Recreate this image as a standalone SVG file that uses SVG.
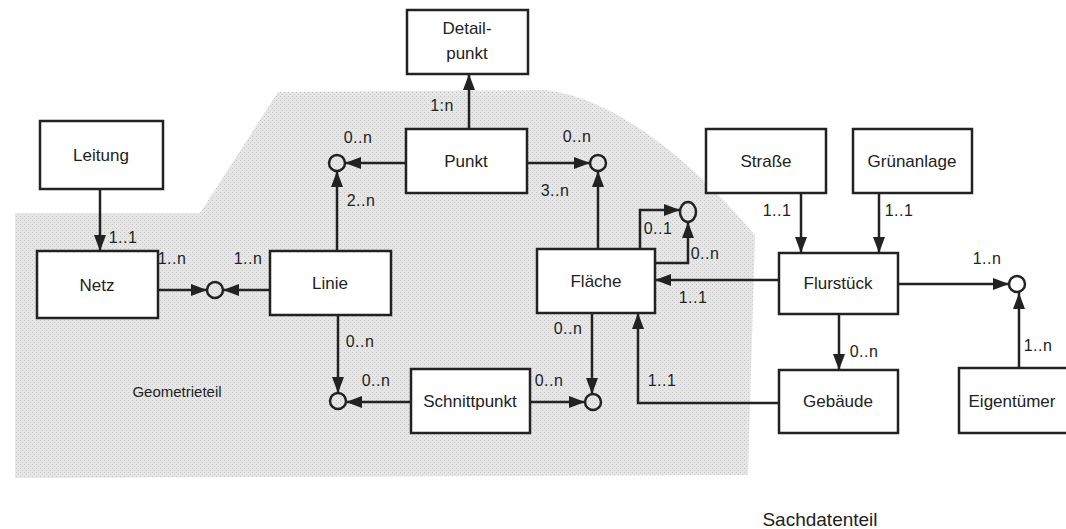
<svg xmlns="http://www.w3.org/2000/svg" width="1066" height="529" viewBox="0 0 1066 529">
<defs>
<pattern id="tex" width="4" height="4" patternUnits="userSpaceOnUse">
<rect width="4" height="4" fill="#e6e6e6"/>
<rect x="0" y="0" width="1" height="1" fill="#c4c4c4"/>
<rect x="2" y="2" width="1" height="1" fill="#cecece"/>
</pattern>
<marker id="arr" viewBox="0 0 16 12" refX="16" refY="6" markerWidth="16" markerHeight="12" markerUnits="userSpaceOnUse" orient="auto">
<path d="M0,0 L16,6 L0,12 z" fill="#222"/>
</marker>
</defs>
<style>
.box{fill:#fff;stroke:#222;stroke-width:2.5}
.lbl{font-family:"Liberation Sans",Arial,sans-serif;font-size:17px;fill:#222;text-anchor:middle}
.m{font-family:"Liberation Sans",Arial,sans-serif;font-size:16px;fill:#222;text-anchor:middle;letter-spacing:0.5px}
.c{fill:none;stroke:#222;stroke-width:2.5}
.ln{fill:none;stroke:#222;stroke-width:2.5;marker-end:url(#arr)}
</style>
<rect width="1066" height="529" fill="#fff"/>
<path id="geometrieteil-area" d="M15,213 L200,213 L278,92 L545,90 C620,98 700,170 755,235 L748,475 L15,478 Z" fill="url(#tex)"/>
<g id="connectors">
<path class="ln" d="M100,189 V251"/>
<path class="ln" d="M158,290 H207"/>
<path class="ln" d="M270,290 H223"/>
<path class="ln" d="M337,251 V171"/>
<path class="ln" d="M406,163 H345"/>
<path class="ln" d="M469,129 V74"/>
<path class="ln" d="M527,163 H590"/>
<path class="ln" d="M598,249 V171"/>
<path class="ln" d="M640,249 V210 H680"/>
<path class="ln" d="M655,263 H688 V222"/>
<path class="ln" d="M779,280 H655"/>
<path class="ln" d="M801,193 V253"/>
<path class="ln" d="M879,193 V253"/>
<path class="ln" d="M898,284 H1009"/>
<path class="ln" d="M1019,368 V293"/>
<path class="ln" d="M839,314 V370"/>
<path class="ln" d="M779,403 H638 V313"/>
<path class="ln" d="M338,315 V393"/>
<path class="ln" d="M411,402 H346"/>
<path class="ln" d="M530,402 H585"/>
<path class="ln" d="M592,313 V394"/>
<circle class="c" cx="215" cy="290" r="8"/>
<circle class="c" cx="337" cy="163" r="8"/>
<circle class="c" cx="598" cy="163" r="8"/>
<ellipse class="c" cx="688" cy="212" rx="8" ry="10"/>
<circle class="c" cx="1017" cy="284" r="8"/>
<circle class="c" cx="338" cy="401" r="8"/>
<circle class="c" cx="593" cy="402" r="8"/>
<text class="m" x="123" y="243">1..1</text>
<text class="m" x="172" y="264">1..n</text>
<text class="m" x="248" y="264">1..n</text>
<text class="m" x="358" y="143">0..n</text>
<text class="m" x="361" y="206">2..n</text>
<text class="m" x="442" y="111">1:n</text>
<text class="m" x="577" y="142">0..n</text>
<text class="m" x="555" y="196">3..n</text>
<text class="m" x="658" y="234">0..1</text>
<text class="m" x="705" y="259">0..n</text>
<text class="m" x="693" y="303">1..1</text>
<text class="m" x="777" y="216">1..1</text>
<text class="m" x="899" y="216">1..1</text>
<text class="m" x="987" y="264">1..n</text>
<text class="m" x="1038" y="351">1..n</text>
<text class="m" x="864" y="357">0..n</text>
<text class="m" x="662" y="386">1..1</text>
<text class="m" x="360" y="347">0..n</text>
<text class="m" x="376" y="386">0..n</text>
<text class="m" x="549" y="386">0..n</text>
<text class="m" x="568" y="334">0..n</text>
</g>
<g id="detailpunkt"><rect class="box" x="407" y="10" width="121" height="64"/><text class="lbl" x="467" y="34">Detail-</text><text class="lbl" x="467" y="59">punkt</text></g>
<g id="punkt"><rect class="box" x="406" y="129" width="121" height="64"/><text class="lbl" x="466" y="167">Punkt</text></g>
<g id="leitung"><rect class="box" x="40" y="121" width="123" height="68"/><text class="lbl" x="101" y="161">Leitung</text></g>
<g id="netz"><rect class="box" x="37" y="251" width="121" height="67"/><text class="lbl" x="97" y="291">Netz</text></g>
<g id="linie"><rect class="box" x="270" y="251" width="121" height="64"/><text class="lbl" x="330" y="289">Linie</text></g>
<g id="flaeche"><rect class="box" x="537" y="249" width="118" height="64"/><text class="lbl" x="596" y="287">Fläche</text></g>
<g id="strasse"><rect class="box" x="706" y="129" width="120" height="64"/><text class="lbl" x="766" y="167">Straße</text></g>
<g id="gruenanlage"><rect class="box" x="853" y="129" width="119" height="64"/><text class="lbl" x="912" y="167">Grünanlage</text></g>
<g id="flurstueck"><rect class="box" x="779" y="253" width="119" height="61"/><text class="lbl" x="838" y="289">Flurstück</text></g>
<g id="gebaeude"><rect class="box" x="779" y="370" width="119" height="63"/><text class="lbl" x="838" y="407">Gebäude</text></g>
<g id="eigentuemer"><rect class="box" x="959" y="368" width="120" height="65"/><text class="lbl" x="1012" y="407">Eigentümer</text></g>
<g id="schnittpunkt"><rect class="box" x="411" y="369" width="119" height="64"/><text class="lbl" x="470" y="407">Schnittpunkt</text></g>
<g id="labels">
<text class="lbl" x="177" y="397" style="font-size:15px">Geometrieteil</text>
<text class="lbl" x="820" y="526" style="font-size:19px">Sachdatenteil</text>
</g>
</svg>
